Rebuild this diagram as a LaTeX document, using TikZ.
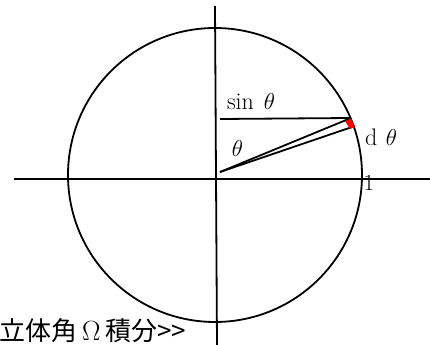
\documentclass[tikz,border=0pt]{standalone}
\usepackage{fontspec}
\newfontfamily\cjk{Noto Sans CJK JP}
\begin{document}
\begin{tikzpicture}[x=0.75pt,y=-0.75pt,line width=1.35pt,
    lbl/.style={inner sep=0pt,font=\fontsize{18}{21}\selectfont}]
    \useasboundingbox (0,0) rectangle (430,345);

    % 坐标轴
    \coordinate (xl) at (14,179);
    \coordinate (xr) at (430,179);
    \coordinate (yt) at (215,6);
    \coordinate (yb) at (217,345);
    \draw (xl) -- (xr);
    \draw (yt) -- (yb);

    % 单位圆
    \coordinate (O) at (215,175);
    \draw (O) circle (147);

    % 角度与弦
    \coordinate (A) at (220,172);
    \coordinate (P) at (351,118);
    \coordinate (Q) at (355,126);
    \coordinate (S) at (220,119);
    \draw (A) -- (P);
    \draw (A) -- (Q);
    \draw (S) -- (P);
    \fill[red] (345,121) -- (351,119) -- (355,127) -- (350,129) -- cycle;

    % 标注
    \node[lbl] (sinlbl) at (251,102) {$\sin\hspace{0.25em}\theta$};
    \node[lbl] (thlbl) at (237.5,149) {$\theta$};
    \node[lbl] (dthlbl) at (381,137) {$\mathrm{d}\hspace{0.35em}\theta$};
    \node[lbl] (onelbl) at (369,183) {$1$};

    % 说明
    \node[inner sep=0pt,anchor=west,font=\cjk\fontsize{19.5}{22}\selectfont] (cap) at (-1,331)
        {立体角\,$\Omega$\,積分>>};
\end{tikzpicture}
\end{document}
